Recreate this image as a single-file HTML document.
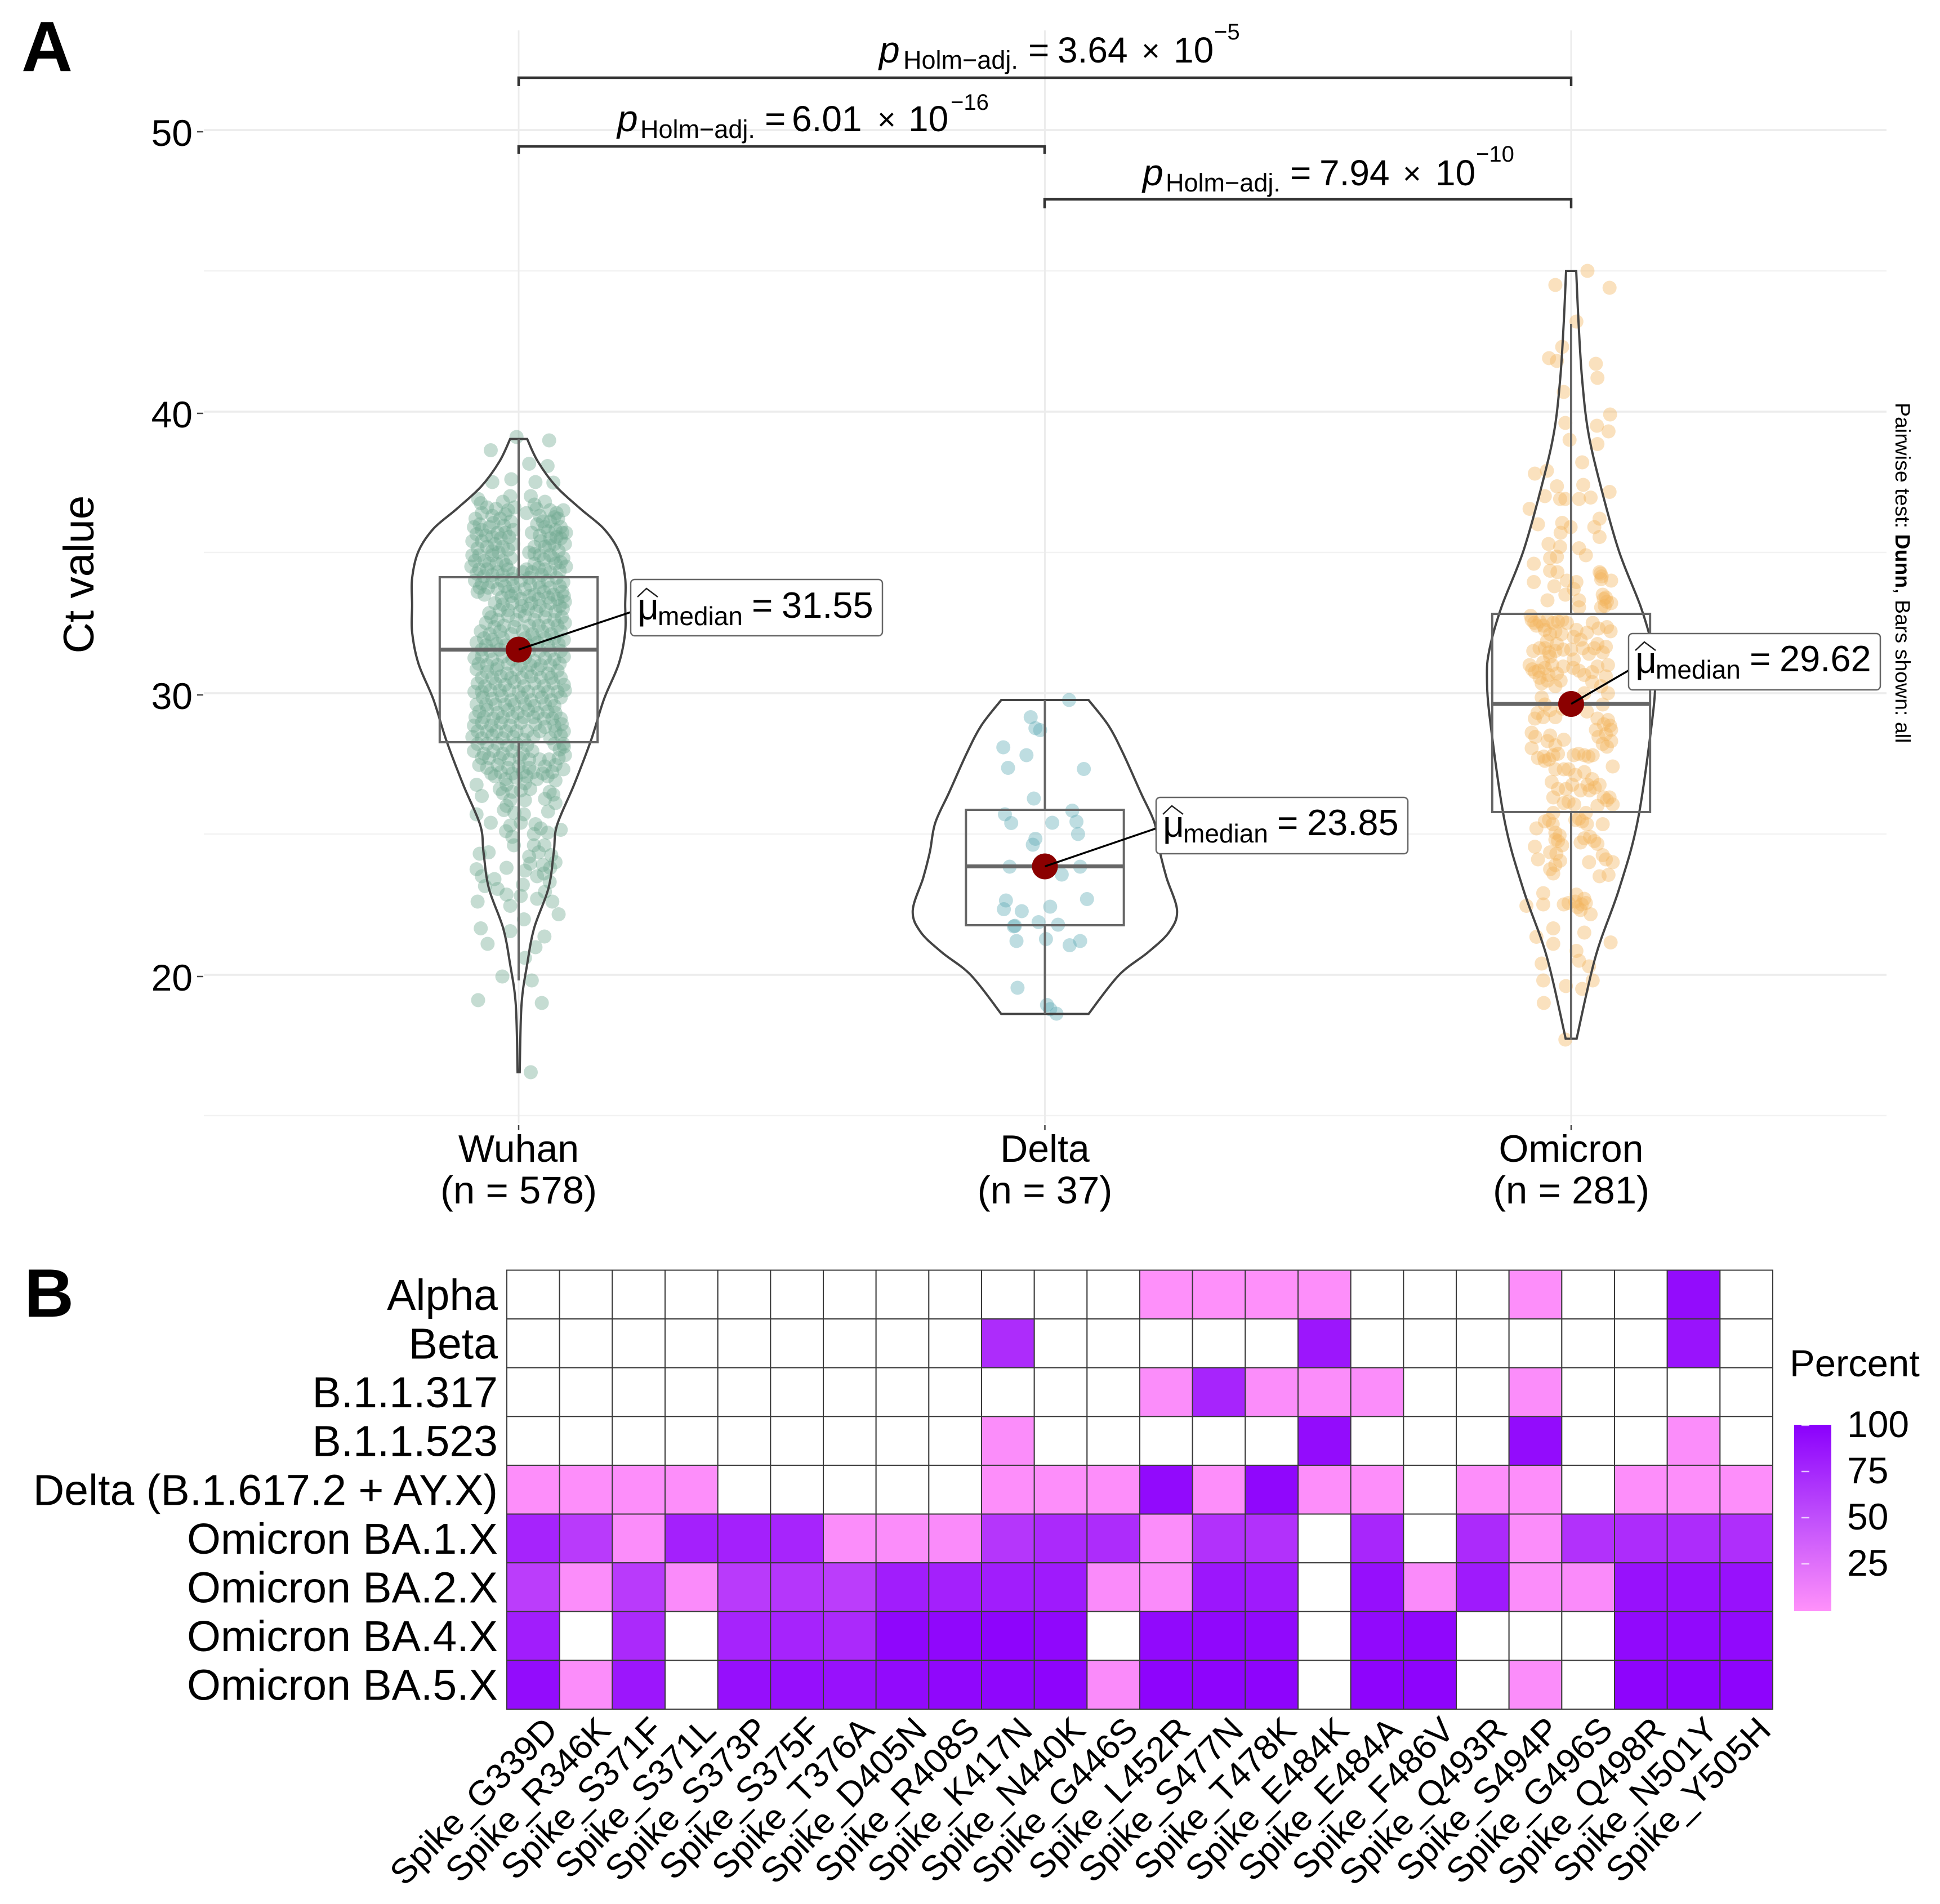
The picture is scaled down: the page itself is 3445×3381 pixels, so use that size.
<!DOCTYPE html>
<html lang="en">
<head>
<meta charset="utf-8">
<title>Ct value by variant and spike mutation heatmap</title>
<style>
html,body{margin:0;padding:0;background:#fff;}
svg{display:block;font-family:"Liberation Sans",sans-serif;}
text{fill:#000;}
</style>
</head>
<body>
<svg id="figure" xmlns="http://www.w3.org/2000/svg" width="3445" height="3381" viewBox="0 0 3445 3381">
  <defs>
    <linearGradient id="percentGradient" x1="0" y1="1" x2="0" y2="0">
      <stop offset="0" stop-color="#ff91fa"/>
      <stop offset="0.5" stop-color="#c04ffb"/>
      <stop offset="1" stop-color="#8a00fc"/>
    </linearGradient>
  </defs>
  <rect x="0" y="0" width="3445" height="3381" fill="#fff"/>
  <text x="38" y="126" font-size="126" font-weight="bold">A</text>
  <text x="43" y="2338" font-size="122" font-weight="bold">B</text>

  <g id="gridLayer"></g>
  <g id="yAxisLayer"></g>
  <g id="xAxisLayer"></g>
  <text transform="translate(166,1020) rotate(-90)" text-anchor="middle" font-size="76.5">Ct value</text>
  <g id="dotLayer"></g>
  <g id="violinLayer"></g>
  <g id="boxLayer"></g>
  <g id="medianLayer"></g>

  <g>
    <line id="conn0" stroke="#000" stroke-width="3.5" x2="1120" y2="1087"/>
    <rect x="1120" y="1029" width="447" height="100" rx="7" fill="#fff" stroke="#666" stroke-width="2.5"/>
    <text x="1132" y="1100" font-size="66">μ</text>
    <polyline points="1132,1060 1148,1045 1168,1060" fill="none" stroke="#222" stroke-width="2.5"/>
    <text x="1168" y="1110" font-size="46">median</text>
    <text x="1335" y="1097" font-size="64">=</text>
    <text x="1388" y="1097" font-size="65">31.55</text>
  </g>
  <g>
    <line id="conn1" stroke="#000" stroke-width="3.5" x2="2053" y2="1471"/>
    <rect x="2053" y="1416" width="447" height="100" rx="7" fill="#fff" stroke="#666" stroke-width="2.5"/>
    <text x="2065" y="1486" font-size="66">μ</text>
    <polyline points="2065,1446 2081,1431 2101,1446" fill="none" stroke="#222" stroke-width="2.5"/>
    <text x="2101" y="1496" font-size="46">median</text>
    <text x="2268" y="1483" font-size="64">=</text>
    <text x="2321" y="1483" font-size="65">23.85</text>
  </g>
  <g>
    <line id="conn2" stroke="#000" stroke-width="3.5" x2="2893" y2="1190"/>
    <rect x="2907" y="1125" width="447" height="100" rx="7" fill="#fff" stroke="#666" stroke-width="2.5" transform="translate(-15,0)"/>
    <text x="2904" y="1195" font-size="66">μ</text>
    <polyline points="2904,1155 2920,1140 2940,1155" fill="none" stroke="#222" stroke-width="2.5"/>
    <text x="2940" y="1205" font-size="46">median</text>
    <text x="3107" y="1192" font-size="64">=</text>
    <text x="3160" y="1192" font-size="65">29.62</text>
  </g>

  <g>
    <path d="M921,153V138H2790V153" fill="none" stroke="#333" stroke-width="4.5"/>
    <text x="1561" y="111" font-size="66" font-style="italic">p</text>
    <text x="1604" y="122" font-size="45">Holm−adj.</text>
    <text x="1826" y="111" font-size="64">=</text>
    <text x="1878" y="111" font-size="64">3.64</text>
    <text x="2027" y="109" font-size="56">×</text>
    <text x="2084" y="111" font-size="64">10</text>
    <text x="2156" y="70" font-size="40">−5</text>
  </g>
  <g>
    <path d="M921,273V260H1855V273" fill="none" stroke="#333" stroke-width="4.5"/>
    <text x="1096" y="233" font-size="66" font-style="italic">p</text>
    <text x="1137" y="245" font-size="45">Holm−adj.</text>
    <text x="1358" y="233" font-size="64">=</text>
    <text x="1406" y="233" font-size="64">6.01</text>
    <text x="1558" y="231" font-size="56">×</text>
    <text x="1613" y="233" font-size="64">10</text>
    <text x="1688" y="195" font-size="40">−16</text>
  </g>
  <g>
    <path d="M1855,370V354H2790V370" fill="none" stroke="#333" stroke-width="4.5"/>
    <text x="2029" y="329" font-size="66" font-style="italic">p</text>
    <text x="2070" y="340" font-size="45">Holm−adj.</text>
    <text x="2291" y="329" font-size="64">=</text>
    <text x="2343" y="329" font-size="64">7.94</text>
    <text x="2491" y="327" font-size="56">×</text>
    <text x="2549" y="329" font-size="64">10</text>
    <text x="2621" y="287" font-size="40">−10</text>
  </g>

  <text transform="translate(3366,715) rotate(90)" font-size="37.5">Pairwise test: <tspan font-weight="bold">Dunn</tspan>, Bars shown: all</text>

  <g id="heatCells"></g>
  <g id="heatRows"></g>
  <g id="heatCols"></g>

  <g>
    <text x="3178" y="2444" font-size="67">Percent</text>
    <rect x="3186" y="2530" width="66" height="331" fill="url(#percentGradient)"/>
    <g id="legendTicks"></g>
  </g>
</svg>
<script>
const categories = ['Wuhan', 'Delta', 'Omicron'];
const sampleSizes = [578, 37, 281];
const yTickValues = [20, 30, 40, 50];
const yMinorValues = [15, 25, 35, 45];
const medians = [31.55, 23.85, 29.62];
const q1Values = [28.26, 21.76, 25.78];
const q3Values = [34.12, 25.86, 32.82];
const whiskerLow = [19.8, 18.62, 17.7];
const whiskerHigh = [39.03, 29.76, 43.12];

const wuhanViolinCt = [39.03,38.23,37.35,36.55,35.84,35.04,34.08,33.13,32.17,31.05,29.78,28.34,26.75,25.31,24.36,23.08,21.65,20.37,18.94,16.54];
const wuhanViolinDensity = [.08,.18,.35,.58,.80,.94,1,1,1,.94,.80,.68,.52,.36,.33,.28,.145,.08,.027,.01];
const deltaViolinCt = [29.76,28.86,27.88,26.47,25.39,24.37,23.45,22.28,21.52,20.8,19.99,18.61];
const deltaViolinDensity = [.33,.48,.59,.725,.83,.87,.92,1,.94,.78,.56,.33];
const omicronViolinCt = [45.0,43.03,41.17,39.33,37.48,35.07,33.04,31.56,30.55,28.97,25.46,23.05,20.65,17.73];
const omicronViolinDensity = [.06,.09,.13,.2,.34,.565,.83,.97,1,.96,.79,.57,.29,.065];
const violinPeakHalfWidth = [0.2025, 0.2512, 0.16];

const wuhanPoints = [
[-.053,38.63],[.058,38.98],[-.004,39.1],[.02,38.15],[.055,38.07],[-.05,37.5],[-.014,37.6],[.066,37.48],[.032,37.5],
[-.077,36.9],[-.06,36.6],[-.07,36.4],[-.082,36.2],[-.05,36.3],[-.03,36.8],[-.016,37.0],[-.02,36.5],[-.035,36.2],[-.015,36.1],[-.008,36.6],[.023,37.0],[.03,36.7],[.05,36.8],[.06,36.5],[.072,36.4],[.085,36.5],[.015,36.4],[.04,36.3],[.06,36.1],[.075,36.2],
[.08,35.9],[.09,35.7],[.07,35.8],[.05,35.9],[.035,36.0],[.025,35.7],[.04,35.6],[.06,35.5],[.08,35.5],[.088,35.3],[.068,35.3],[.05,35.2],[.03,35.2],[.02,35.0],[.04,34.9],[.06,34.9],[.085,34.8],[.09,34.5],[.07,34.6],[.05,34.4],[.03,34.6],[.015,34.4],
[-.085,35.9],[-.07,35.8],[-.055,35.9],[-.04,35.7],[-.025,35.7],[-.01,35.8],[-.088,35.4],[-.07,35.4],[-.06,35.2],[-.045,35.3],[-.03,35.2],[-.01,35.3],[-.088,34.9],[-.075,34.9],[-.065,34.7],[-.05,34.9],[-.03,34.7],[-.015,34.8],[-.09,34.5],[-.075,34.4],[-.06,34.4],[-.04,34.3],[-.02,34.4],
[-.083,34.0],[-.07,33.9],[-.05,33.95],[-.032,34.0],[-.012,34.05],[.004,34.0],[.02,34.1],[.038,33.95],[.055,34.0],[.072,34.1],[.085,33.95],
[-.078,33.6],[-.065,33.5],[-.02,33.6],[-.006,33.55],[.012,33.7],[.03,33.5],[.048,33.6],[.066,33.5],[.083,33.6],
[-.045,33.2],[-.03,33.15],[-.012,33.2],[.006,33.1],[.024,33.2],[.04,33.1],[.06,33.2],[.078,33.1],[.088,33.25],
[-.052,32.7],[-.062,32.5],[-.04,32.6],[-.02,32.75],[-.004,32.6],[.012,32.75],[.03,32.6],[.05,32.7],[.068,32.6],[.082,32.7],
[-.072,32.2],[-.055,32.1],[-.035,32.2],[-.014,32.1],[.008,32.2],[.026,32.1],[.045,32.2],[.062,32.1],[.08,32.2],
[-.08,31.8],[-.062,31.7],[-.042,31.75],[-.025,31.7],[.018,31.7],[.036,31.8],[.056,31.7],[.076,31.75],
[-.084,31.25],[-.07,31.3],[-.05,31.2],[-.03,31.3],[-.012,31.2],[.012,31.25],[.03,31.15],[.05,31.25],[.068,31.2],[.086,31.3],
[-.08,30.85],[-.06,30.75],[-.042,30.85],[-.022,30.7],[-.004,30.85],[.016,30.75],[.036,30.85],[.056,30.7],[.074,30.8],
[-.078,30.35],[-.064,30.25],[-.044,30.35],[-.026,30.3],[-.008,30.4],[.01,30.25],[.03,30.35],[.048,30.25],[.066,30.35],[.086,30.3],
[-.068,29.85],[-.05,29.8],[-.032,29.9],[-.014,29.75],[.006,29.85],[.024,29.75],[.044,29.85],[.062,29.75],[.08,29.85],
[-.075,29.35],[-.06,29.4],[-.04,29.3],[-.02,29.4],[-.002,29.3],[.018,29.4],[.036,29.3],[.055,29.35],[.07,29.3],
[-.085,28.85],[-.07,28.95],[-.052,28.85],[-.034,28.95],[-.016,28.85],[.004,28.95],[.032,28.9],[.05,28.8],[.068,28.85],[.082,28.9],
[-.088,28.45],[-.07,28.4],[-.05,28.5],[-.03,28.4],[-.01,28.45],[.01,28.35],[.028,28.45],[.06,28.4],[.08,28.5],
[-.085,27.95],[-.066,27.85],[-.048,27.95],[-.03,27.85],[-.012,27.95],[.008,27.85],[.026,27.95],[.078,28.0],[.088,27.8],
[-.075,27.45],[-.06,27.35],[-.04,27.45],[-.02,27.35],[0,27.4],[.02,27.35],[.05,27.4],[.07,27.45],[.085,27.3],
[-.045,27.05],[-.025,26.95],[-.005,27.0],[.015,27.05],[.035,26.95],[.055,27.05],[.07,26.9],
[-.08,26.75],[-.07,26.35],[-.036,26.6],[-.023,26.75],[.012,26.8],[.059,26.5],[.066,26.4],[-.08,25.7],[-.023,26.0],[-.016,26.2],[.012,26.2],[.056,25.8],[-.053,25.4],[-.016,25.3],[.042,25.2],[.08,25.15],[-.012,24.9],[.029,25.0],[-.009,24.6],[.029,24.6],[.049,24.6],[-.057,24.35],[-.074,24.3],[-.08,23.75],[-.023,23.8],[.022,23.95],[.046,23.9],[.07,24.0],[.012,23.7],[-.07,23.5],[-.046,23.4],[.035,23.5],[.059,23.3],[.008,23.2],[-.023,22.85],[-.078,22.6],[.035,22.7],[.064,22.6],[-.016,22.45],[.076,22.15],[.01,21.97],[-.072,21.65],[-.016,21.55],[.049,21.36],[-.059,21.1],[.032,20.98],[.012,20.6],[-.031,19.94],[.025,19.8],[-.077,19.1],[.044,19.0],[.023,16.54]
];
const wuhanDensePoints = [
[-.072,36.75],[-.043,36.55],[-.025,36.35],[.034,36.55],[.068,36.25],[.046,36.1],[-.074,36.0],[-.048,36.05],[-.028,35.95],[.056,35.75],[.072,35.55],[.083,35.7],[.042,35.4],[.058,35.25],[.076,35.05],[.03,34.95],[.048,34.75],[.066,34.8],[.08,34.65],[.038,34.45],[.06,34.3],[.078,34.35],
[-.08,35.65],[-.062,35.6],[-.05,35.55],[-.034,35.5],[-.018,35.55],[-.078,35.15],[-.05,35.05],[-.038,35.0],[-.02,35.1],[-.083,34.7],[-.056,34.6],[-.042,34.6],[-.024,34.55],[-.08,34.25],[-.066,34.15],[-.05,34.2],[-.03,34.2],[-.01,34.25],[.008,34.3],[.025,34.3],[.044,34.2],
[-.074,33.75],[-.058,33.75],[-.04,33.7],[-.026,33.8],[-.01,33.8],[.022,33.85],[.04,33.75],[.06,33.75],[.078,33.8],[-.032,33.4],[-.014,33.45],[.004,33.35],[.02,33.45],[.038,33.35],[.056,33.4],[.074,33.35],[.086,33.45],
[-.036,32.95],[-.02,32.95],[.002,32.9],[.018,33.0],[.034,32.9],[.052,32.95],[.07,32.9],[.084,33.0],[-.056,32.85],[-.046,32.35],[-.028,32.4],[-.008,32.35],[.02,32.4],[.038,32.4],[.056,32.4],[.074,32.4],[.088,32.5],
[-.066,31.95],[-.05,31.9],[-.03,31.95],[.012,31.95],[.03,31.95],[.05,31.95],[.068,31.95],[.086,31.9],[-.07,31.55],[-.054,31.5],[-.036,31.55],[.02,31.5],[.04,31.5],[.06,31.5],[.08,31.5],
[-.076,31.05],[-.06,31.0],[-.04,31.0],[-.02,31.05],[.004,31.0],[.022,31.0],[.042,31.0],[.06,31.0],[.078,31.05],[-.07,30.55],[-.05,30.55],[-.034,30.6],[-.014,30.55],[.006,30.55],[.024,30.6],[.042,30.55],[.062,30.55],[.08,30.55],
[-.084,30.05],[-.07,30.05],[-.054,30.1],[-.036,30.1],[-.018,30.1],[0,30.05],[.018,30.05],[.038,30.05],[.056,30.05],[.074,30.05],[.088,30.1],[-.08,29.6],[-.062,29.6],[-.044,29.6],[-.026,29.6],[-.008,29.6],[.012,29.6],[.03,29.55],[.05,29.6],[.068,29.55],
[-.082,29.15],[-.066,29.15],[-.048,29.1],[-.03,29.15],[-.012,29.15],[.01,29.15],[.028,29.15],[.048,29.1],[.064,29.1],[.08,29.1],[-.078,28.65],[-.06,28.65],[-.042,28.65],[-.024,28.65],[-.004,28.65],[.016,28.65],[.04,28.65],[.07,28.65],[.086,28.65],
[-.078,28.2],[-.06,28.2],[-.04,28.2],[-.022,28.15],[-.004,28.2],[.016,28.15],[.068,28.2],[.085,28.2],[.076,27.7],[.086,28.1],[-.056,27.7],[-.036,27.7],[-.018,27.65],[.002,27.7],[.02,27.65],[.04,27.65],[.058,27.65],[-.07,27.7],
[-.052,27.15],[-.034,27.2],[-.012,27.15],[.008,27.2],[.028,27.2],[.046,27.15],[.064,27.2],[-.03,26.45],[-.012,26.5],[.004,26.55],[.022,26.6],[.05,26.25],[.07,26.1],[-.028,25.85],[-.008,25.75],[.01,25.7],[.004,25.4],[-.024,25.1],[.032,25.35],[.055,25.05],[.038,24.35],[.062,24.25],[.02,24.2],[.06,23.8],[.048,23.6],[-.064,23.15],[-.04,23.05],[.05,22.95],[.004,22.8]
];
const deltaPoints = [
[.046,29.76],[-.027,29.15],[-.018,28.76],[-.009,28.69],[-.079,28.08],[-.035,27.80],[-.070,27.35],[.074,27.31],[-.021,26.26],[.052,25.83],[-.076,25.70],[-.064,25.39],[.014,25.40],[.060,25.44],[.063,25.0],[-.018,24.83],[-.023,24.62],[-.067,23.84],[.067,23.84],[.032,23.56],[-.074,22.64],[-.078,22.33],[-.044,22.26],[.010,22.42],[.080,22.69],[-.012,21.87],[.025,21.78],[-.057,21.74],[-.059,21.72],[-.054,21.2],[.002,21.27],[.067,21.2],[.047,21.05],[-.052,19.54],[.004,18.93],[.010,18.78],[.022,18.62]
];
const omicronPoints = [
[.031,45.0],[-.030,44.5],[.073,44.4],[.010,43.2],[-.017,42.3],[-.042,41.9],[-.027,41.8],[.047,41.7],[.050,41.2],[-.014,40.7],[.074,39.9],[-.011,39.6],[.049,39.5],[.071,39.3],[-.003,39.0],[.050,38.85],[.021,38.2],[-.069,37.8],[-.046,37.9],[.023,37.4],[-.027,37.35],[.073,37.15],[-.050,37.0],[-.021,36.9],[-.011,36.9],[.015,36.9],[.037,36.95],[-.079,36.55],[-.063,36.0],[-.017,36.05],[-.001,35.9],[.054,36.2],[.044,35.9],[.054,35.55],[-.043,35.3],[-.021,35.2],[.015,35.15],[-.040,34.8],[-.027,34.85],[.028,34.9],[-.071,34.6],[.054,34.3],[.057,34.05],[-.071,33.95],[.076,34.0],[-.008,34.0],[.010,33.95],[-.032,33.8],[-.011,33.5],[-.045,33.3],[.015,33.3],[.066,33.4],[.057,33.05],[.076,33.2],[.015,33.05],[-.077,32.75],[-.075,32.6],[-.053,32.4],[-.034,32.5],[-.017,32.6],[-.066,32.4],[.041,32.5],[.075,32.2],[.005,32.0],[.018,31.9],[-.046,31.85],[-.027,31.75],[.05,31.75],[.06,31.45],[.034,31.4],[-.04,31.3],[-.053,31.1],[-.079,31.0],[-.069,30.75],[.005,31.2],[.07,31.0],[-.043,30.65],[-.027,30.7],[-.056,30.35],[.025,30.65],[.057,30.25],[-.03,30.25],[.07,30.0],[-.056,29.85],[.025,30.0],[.06,29.6],[-.069,29.1],[-.053,29.15],[-.03,29.15],[.07,29.05],[-.075,28.6],[-.04,28.5],[.076,28.7],[.047,28.7],[.06,28.2],[.076,28.3],[-.075,28.05],[-.014,28.35],[-.063,27.7],[-.05,27.6],[-.034,27.8],[.005,27.8],[.025,27.8],[.041,27.8],[.079,27.4],[-.014,27.3],[.025,27.2],[-.037,26.85],[.002,26.75],[.031,26.75],[.054,26.75],[-.034,26.3],[-.005,26.15],[.073,26.3],[.079,26.05],[.05,26.0],[-.034,25.75],[.028,25.75],[-.05,25.45],[-.066,25.2],[.021,25.45],[.06,25.35],[-.03,24.8],[.018,24.7],[.044,24.75],[-.069,24.55],[-.017,24.6],[-.063,24.1],[-.021,24.05],[.066,24.1],[.034,24.0],[.079,24.0],[-.034,23.6],[.054,23.5],[.071,23.55],[-.053,22.9],[.025,22.7],[-.014,22.5],[.012,22.4],[-.053,22.5],[-.085,22.45],[.018,22.3],[.037,22.15],[-.034,21.65],[.025,21.5],[.075,21.15],[-.066,21.35],[-.034,21.1],[.01,20.85],[.015,20.5],[-.056,20.4],[.034,20.3],[-.053,19.8],[.041,19.8],[-.01,19.6],[.021,19.5],[-.052,19.0],[-.011,17.7]
];
const omicronDensePoints = [
[-.02,35.7],[.056,34.25],[.058,34.15],[.062,33.35],[.068,33.25],[.06,33.5],[.064,33.1],[.005,33.7],[-.026,34.3],[-.04,34.35],
[-.07,32.5],[-.06,32.55],[-.045,32.6],[-.025,32.55],[-.008,32.5],[-.03,32.2],[-.018,32.1],[-.04,32.1],[-.05,32.25],[.01,32.25],[.03,32.15],[.052,32.3],[.068,32.35],
[-.072,31.5],[-.06,31.6],[-.05,31.6],[-.042,31.45],[-.03,31.5],[-.015,31.55],[0,31.55],[.022,31.6],[.044,31.6],[.066,31.65],
[-.074,30.85],[-.062,30.8],[-.05,30.9],[-.036,31.0],[-.015,30.95],[.004,30.9],[.015,30.8],[.04,30.75],[.05,30.95],[.066,30.6],[-.06,30.55],[-.045,30.45],[-.02,30.45],[.04,30.4],
[-.05,29.6],[-.064,29.3],[-.04,29.4],[-.016,29.45],[.03,29.35],[.05,29.1],[.062,28.9],[.074,28.85],[.066,28.55],[-.068,28.45],[-.045,28.3],[-.03,28.15],[.068,28.1],[.052,28.45],[-.052,27.75],[-.042,27.65],[-.025,27.85],[.014,27.85],[.033,27.75],
[-.03,27.3],[-.005,27.3],[.008,27.1],[.04,26.95],[.018,26.55],[-.025,26.6],[-.01,26.6],[.035,26.55],[.045,26.65],[.062,26.3],[.068,26.2],[-.014,26.1],[.006,26.05],[.015,25.55],
[-.042,25.5],[-.035,25.35],[.008,25.5],[.03,25.35],[-.03,25.05],[-.022,24.95],[.025,24.85],[.036,24.9],[.05,24.65],[-.025,24.75],[-.04,24.35],[-.028,24.3],[.06,24.25],[-.03,23.9],[-.04,23.75],[.008,22.6],[.01,22.85],[.028,22.55],[-.005,22.55],[.02,22.5]
];

const lineages = ['Alpha','Beta','B.1.1.317','B.1.1.523','Delta (B.1.617.2 + AY.X)','Omicron BA.1.X','Omicron BA.2.X','Omicron BA.4.X','Omicron BA.5.X'];
const mutations = ['Spike_G339D','Spike_R346K','Spike_S371F','Spike_S371L','Spike_S373P','Spike_S375F','Spike_T376A','Spike_D405N','Spike_R408S','Spike_K417N','Spike_N440K','Spike_G446S','Spike_L452R','Spike_S477N','Spike_T478K','Spike_E484K','Spike_E484A','Spike_F486V','Spike_Q493R','Spike_S494P','Spike_G496S','Spike_Q498R','Spike_N501Y','Spike_Y505H'];
const _ = null;
const percentAlpha   = [_,_,_,_,_,_,_,_,_,_,_,_,1,1,1,2,_,_,_,2,_,_,92,_];
const percentBeta    = [_,_,_,_,_,_,_,_,_,70,_,_,_,_,_,85,_,_,_,_,_,_,87,_];
const percentB11317  = [_,_,_,_,_,_,_,_,_,_,_,_,3,75,3,3,3,_,_,3,_,_,_,_];
const percentB11523  = [_,_,_,_,_,_,_,_,_,3,_,_,_,_,_,92,_,_,_,92,_,_,3,_];
const percentDelta   = [2,2,2,2,_,_,_,_,_,2,2,2,93,2,95,2,2,_,2,2,_,2,2,2];
const percentBA1     = [76,60,3,78,78,75,3,3,4,63,72,70,3,66,66,_,74,_,71,3,66,70,70,68];
const percentBA2     = [58,3,60,4,60,63,58,80,78,80,82,4,4,85,82,_,90,4,82,3,4,88,88,88];
const percentBA4     = [80,_,72,_,76,76,72,96,95,97,95,_,94,95,94,_,94,95,_,_,_,94,94,94];
const percentBA5     = [92,3,85,_,90,90,88,93,95,96,97,4,97,97,97,_,97,97,_,3,_,97,97,97];
const percentRows = [percentAlpha,percentBeta,percentB11317,percentB11523,percentDelta,percentBA1,percentBA2,percentBA4,percentBA5];
const legendTickValues = [25, 50, 75, 100];

const SVGNS = 'http://www.w3.org/2000/svg';
function xScale(position){ return 921 + position * 934.5; }
function yScale(ct){ return 1731 - (ct - 20) * 50; }
function heatX(col){ return 900 + col * (2248 / mutations.length); }
function heatY(row){ return 2255.5 + row * (779.5 / lineages.length); }
function legendY(pct){ return 2859 - pct * 3.28; }
function percentColor(pct){
  const t = pct / 100;
  const low = [255,145,250], high = [138,0,252];
  const c = low.map(function(l,i){ return Math.round(l + (high[i]-l)*t); });
  return 'rgb(' + c.join(',') + ')';
}
function svgEl(tag, attrs, parent){
  const el = document.createElementNS(SVGNS, tag);
  for (const k in attrs) el.setAttribute(k, attrs[k]);
  parent.appendChild(el);
  return el;
}
function smoothPath(pts){
  let d = 'M' + pts[0][0].toFixed(1) + ',' + pts[0][1].toFixed(1);
  for (let i = 0; i < pts.length - 1; i++){
    const p0 = pts[Math.max(i-1,0)], p1 = pts[i], p2 = pts[i+1], p3 = pts[Math.min(i+2,pts.length-1)];
    const c1x = p1[0] + (p2[0]-p0[0])/6, c1y = p1[1] + (p2[1]-p0[1])/6;
    const c2x = p2[0] - (p3[0]-p1[0])/6, c2y = p2[1] - (p3[1]-p1[1])/6;
    d += 'C' + c1x.toFixed(1) + ',' + c1y.toFixed(1) + ' ' + c2x.toFixed(1) + ',' + c2y.toFixed(1) + ' ' + p2[0].toFixed(1) + ',' + p2[1].toFixed(1);
  }
  return d;
}

const gridLayer = document.getElementById('gridLayer');
yMinorValues.forEach(function(v){
  const el = svgEl('line', {x1:362, x2:3350, y1:yScale(v), y2:yScale(v), stroke:'#f2f2f2', 'stroke-width':2.5}, gridLayer);
  
  
});
yTickValues.forEach(function(v){
  const el = svgEl('line', {x1:362, x2:3350, y1:yScale(v), y2:yScale(v), stroke:'#ececec', 'stroke-width':3.5}, gridLayer);
  
  
});
categories.forEach(function(name, i){
  const el = svgEl('line', {x1:xScale(i), x2:xScale(i), y1:54, y2:1995, stroke:'#ececec', 'stroke-width':3}, gridLayer);
  
  
});

const yAxisLayer = document.getElementById('yAxisLayer');
yTickValues.forEach(function(v){
  const tick = svgEl('line', {x1:350, x2:361, y1:yScale(v)+3, y2:yScale(v)+3, stroke:'#444', 'stroke-width':2.5}, yAxisLayer);
  
  
  const label = svgEl('text', {x:342, y:yScale(v)+28, 'text-anchor':'end', 'font-size':66}, yAxisLayer);
  label.textContent = String(v);
  
  
});

const xAxisLayer = document.getElementById('xAxisLayer');
categories.forEach(function(name, i){
  const tick = svgEl('line', {x1:xScale(i), x2:xScale(i), y1:1998, y2:2007, stroke:'#444', 'stroke-width':2.5}, xAxisLayer);
  
  
  const label = svgEl('text', {x:xScale(i), y:2063, 'text-anchor':'middle', 'font-size':68}, xAxisLayer);
  label.textContent = name;
  
  
  const count = svgEl('text', {x:xScale(i), y:2137, 'text-anchor':'middle', 'font-size':69}, xAxisLayer);
  count.textContent = '(n = ' + sampleSizes[i] + ')';
  
  
});

const dotLayer = document.getElementById('dotLayer');
const pointSets = [wuhanPoints.concat(wuhanDensePoints), deltaPoints, omicronPoints.concat(omicronDensePoints)];
const dotColors = ['#6fa88e', '#5ca9b5', '#f3b45c'];
pointSets.forEach(function(points, i){
  points.forEach(function(p){
    const dot = svgEl('circle', {cx:xScale(i + p[0]), cy:yScale(p[1]), r:12.5, fill:dotColors[i], 'fill-opacity':0.4}, dotLayer);
    
    
  });
});

const violinLayer = document.getElementById('violinLayer');
const violinCts = [wuhanViolinCt, deltaViolinCt, omicronViolinCt];
const violinDensities = [wuhanViolinDensity, deltaViolinDensity, omicronViolinDensity];
violinCts.forEach(function(cts, i){
  const right = cts.map(function(ct, k){ return [xScale(i + violinDensities[i][k] * violinPeakHalfWidth[i]), yScale(ct)]; });
  const left = cts.map(function(ct, k){ return [xScale(i - violinDensities[i][k] * violinPeakHalfWidth[i]), yScale(ct)]; }).reverse();
  const d = smoothPath(right) + 'L' + left[0][0].toFixed(1) + ',' + left[0][1].toFixed(1) + smoothPath(left).replace(/^M[^C]*/, '') + 'Z';
  const path = svgEl('path', {d:d, fill:'none', stroke:'#444', 'stroke-width':4}, violinLayer);
  
  
});

const boxLayer = document.getElementById('boxLayer');
const boxHalfWidth = 0.15;
categories.forEach(function(name, i){
  const upper = svgEl('line', {x1:xScale(i), x2:xScale(i), y1:yScale(whiskerHigh[i]), y2:yScale(q3Values[i]), stroke:'#666', 'stroke-width':4}, boxLayer);
  
  
  const lower = svgEl('line', {x1:xScale(i), x2:xScale(i), y1:yScale(q1Values[i]), y2:yScale(whiskerLow[i]), stroke:'#666', 'stroke-width':4}, boxLayer);
  
  
  const box = svgEl('rect', {x:xScale(i - boxHalfWidth), y:yScale(q3Values[i]), width:xScale(i + boxHalfWidth) - xScale(i - boxHalfWidth), height:yScale(q1Values[i]) - yScale(q3Values[i]), fill:'none', stroke:'#666', 'stroke-width':4}, boxLayer);
  
  
  const mid = svgEl('line', {x1:xScale(i - boxHalfWidth), x2:xScale(i + boxHalfWidth), y1:yScale(medians[i]), y2:yScale(medians[i]), stroke:'#666', 'stroke-width':7}, boxLayer);
  
  
});

const medianLayer = document.getElementById('medianLayer');
categories.forEach(function(name, i){
  const marker = svgEl('circle', {cx:xScale(i), cy:yScale(medians[i]), r:23, fill:'#8b0000'}, medianLayer);
  
  
  const conn = document.getElementById('conn' + i);
  conn.setAttribute('x1', xScale(i));
  conn.setAttribute('y1', yScale(medians[i]));
});

const heatCells = document.getElementById('heatCells');
const cellW = 2248 / mutations.length, cellH = 779.5 / lineages.length;
percentRows.forEach(function(row, r){
  row.forEach(function(v, c){
    const cell = svgEl('rect', {x:heatX(c), y:heatY(r), width:cellW, height:cellH, fill: v === null ? '#ffffff' : percentColor(v), stroke:'#3a3a3a', 'stroke-width':2}, heatCells);
    
    
  });
});
const heatRows = document.getElementById('heatRows');
lineages.forEach(function(name, r){
  const label = svgEl('text', {x:884, y:heatY(r) + cellH/2 + 27, 'text-anchor':'end', 'font-size':77}, heatRows);
  label.textContent = name;
  
  
});
const heatCols = document.getElementById('heatCols');
mutations.forEach(function(name, c){
  const px = heatX(c) + cellW/2 + 15, py = 3044;
  const label = svgEl('text', {transform:'translate(' + px + ',' + py + ') rotate(-45)', 'text-anchor':'end', dy:'0.72em', 'font-size':62.5}, heatCols);
  label.textContent = name;
  
  
});

const legendTicks = document.getElementById('legendTicks');
legendTickValues.forEach(function(v){
  const tick = svgEl('line', {x1:3199, x2:3213, y1:legendY(v), y2:legendY(v), stroke:'#ffffff', 'stroke-opacity':0.7, 'stroke-width':2.5}, legendTicks);
  
  
  const label = svgEl('text', {x:3280, y:legendY(v) + 21, 'font-size':66}, legendTicks);
  label.textContent = String(v);
  
  
});
</script>
</body>
</html>
